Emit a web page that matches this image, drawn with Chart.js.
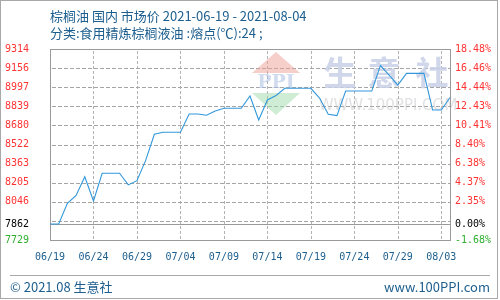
<!DOCTYPE html>
<html>
<head>
<meta charset="utf-8">
<script src="https://cdn.jsdelivr.net/npm/chart.js@4/dist/chart.umd.min.js"></script>
<style>
    html, body { margin: 0; padding: 0; background: #fff; }
    #wrap { width: 500px; height: 300px; }
</style>
</head>
<body>
<div id="wrap"><canvas id="price-plot" width="500" height="300"></canvas></div>
<script>
// dates, one per day 06/19 .. 08/04
const dates = [
    '06/19', '06/20', '06/21', '06/22', '06/23', '06/24', '06/25', '06/26', '06/27', '06/28',
    '06/29', '06/30', '07/01', '07/02', '07/03', '07/04', '07/05', '07/06', '07/07', '07/08',
    '07/09', '07/10', '07/11', '07/12', '07/13', '07/14', '07/15', '07/16', '07/17', '07/18',
    '07/19', '07/20', '07/21', '07/22', '07/23', '07/24', '07/25', '07/26', '07/27', '07/28',
    '07/29', '07/30', '07/31', '08/01', '08/02', '08/03', '08/04'
]
// 棕榈油 market price, yuan/ton
const prices = [
    7862, 7862, 8034, 8098, 8254, 8053, 8283, 8283, 8283, 8186,
    8221, 8390, 8606, 8623, 8623, 8623, 8775, 8775, 8764, 8799,
    8822, 8822, 8822, 8924, 8725, 8891, 8928, 8988, 8988, 8988,
    8988, 8907, 8772, 8761, 8965, 8965, 8965, 8965, 9177, 9098,
    9015, 9112, 9112, 9112, 8808, 8808, 8912
]
const basePrice = 7862
const yMin = 7729
const yMax = 9314
// y ticks (bottom -> top); the 7887.5 one only draws a grid line
const yTickValues = [7729, 7862, 7887.5, 8046, 8204.5, 8363, 8521.5, 8680, 8838.5, 8997, 9155.5, 9314]
const leftTickLabels = ['7729', '7862', '', '8046', '8205', '8363', '8522', '8680', '8839', '8997', '9156', '9314']
const rightTickLabels = ['-1.68%', '0.00%', '', '2.35%', '4.37%', '6.38%', '8.40%', '10.41%', '12.43%', '14.44%', '16.46%', '18.48%']

const titleLine1 = '棕榈油 国内 市场价 2021-06-19 - 2021-08-04'
const titleLine2 = '分类:食用精炼棕榈液油 :熔点(℃):24 ;'
const footerLeft = '© 2021.08 生意社'
const footerRight = 'www.100PPI.com'

const TEXT_BLUE = '#1c5e8e'
const GRID_GRAY = '#b2b2b2'
const tickFont = {family: 'DejaVu Sans Mono', size: 10}

function tickColor(v) {
    if (v > basePrice) return '#ff3333'
    if (v === basePrice) return '#000000'
    return '#2fae2f'
}

function isSolidRow(v) {
    return v === basePrice || v === yMax
}

// grid drawn by hand: dashes as little 1px rects so they stay crisp
const gridLines = {
    id: 'gridLines',
    afterDraw(chart) {
        const c = chart.ctx
        const {left, right, top, bottom} = chart.chartArea
        const xs = chart.scales.x
        const ys = chart.scales.y
        const L = Math.round(left), R = Math.round(right)
        const T = Math.round(top), B = Math.round(bottom)
        c.save()
        c.globalCompositeOperation = 'destination-over'
        yTickValues.forEach((v) => {
            if (v === yMin) return
            const py = Math.round(ys.getPixelForValue(v))
            if (isSolidRow(v)) {
                c.fillStyle = '#9a9a9a'
                c.fillRect(L, py, R - L, 1)
                return
            }
            c.fillStyle = '#a4a4a4'
            for (let px = L + 2; px < R; px += 6) {
                c.fillRect(px, py, Math.min(4, R - px), 1)
            }
        })
        c.fillStyle = GRID_GRAY
        dates.forEach((d, i) => {
            if (i % 5 !== 0 || i === 0) return
            const px = Math.round(xs.getPixelForValue(i))
            for (let py = T + 2; py < B; py += 5) {
                c.fillRect(px, py, 1, Math.min(3, B - py))
            }
        })
        c.restore()
    }
}

const decorations = {
    id: 'decorations',
    beforeDraw(chart) {
        const c = chart.ctx
        c.save()
        // watermark logo
        c.fillStyle = 'rgba(240,160,150,0.5)'
        c.beginPath()
        c.moveTo(276, 52); c.lineTo(300, 73); c.lineTo(252, 73); c.closePath()
        c.fill()
        c.fillStyle = 'rgba(170,190,225,0.55)'
        c.font = 'bold 19px "DejaVu Serif"'
        c.textBaseline = 'middle'
        c.textAlign = 'center'
        c.fillText('PPI', 276, 83)
        c.fillStyle = 'rgba(160,220,170,0.5)'
        c.beginPath()
        c.moveTo(252, 93); c.lineTo(300, 93); c.lineTo(276, 115); c.closePath()
        c.fill()

        c.fillStyle = 'rgba(200,208,230,0.85)'
        c.font = 'bold 33px "Noto Sans CJK SC"'
        c.fillText('生', 340, 72)
        c.fillText('意', 384, 72)
        c.fillText('社', 432, 72)
        c.fillStyle = 'rgba(195,195,200,0.5)'
        c.font = '15px "DejaVu Sans"'
        c.fillText('WWW.100PPI.COM', 388, 106)
        c.restore()
    },
    afterDraw(chart) {
        const c = chart.ctx
        c.save()
        c.fillStyle = TEXT_BLUE
        c.textBaseline = 'middle'
        c.textAlign = 'left'
        c.font = '13px "Noto Sans CJK SC"'
        c.fillText(titleLine1, 50, 16)
        c.fillText(titleLine2, 50, 33)
        c.fillText(footerLeft, 10, 287)
        c.textAlign = 'right'
        c.fillText(footerRight, 490, 287)

        c.fillStyle = '#a8a8a8'
        c.fillRect(10, 275, 480, 1)
        c.strokeStyle = '#a8a8a8'
        c.lineWidth = 1
        c.strokeRect(0.5, 0.5, 497, 298)
        c.restore()
    }
}

document.addEventListener('DOMContentLoaded', () => {
    const ctx_price = document.getElementById('price-plot')

    new Chart(ctx_price, {
        type: 'line',
        data: {
            labels: dates,
            datasets: [
                {data: prices, borderColor: '#3398db', borderWidth: 1.1, pointRadius: 0, tension: 0, fill: false}
            ]
        },
        options: {
            responsive: false,
            animation: false,
            events: [],
            layout: {padding: {top: 49, left: 5, right: 0, bottom: 0}},
            plugins: {
                legend: {display: false},
                tooltip: {enabled: false},
                title: {display: false}
            },
            scales: {
                x: {
                    type: 'category',
                    offset: false,
                    afterFit: (s) => { s.height = 60 },
                    grid: {display: false, drawTicks: false},
                    border: {display: true, color: '#9a9a9a', width: 1},
                    ticks: {
                        autoSkip: false,
                        maxRotation: 0,
                        padding: 11,
                        color: TEXT_BLUE,
                        font: tickFont,
                        callback: (v, i) => (i % 5 === 0 ? dates[i] : '')
                    }
                },
                y: {
                    position: 'left',
                    min: yMin,
                    max: yMax,
                    afterFit: (s) => { s.width = 45 },
                    afterBuildTicks: (s) => { s.ticks = yTickValues.map(v => ({value: v})) },
                    grid: {display: false, drawTicks: false},
                    border: {display: true, color: '#9a9a9a', width: 1},
                    ticks: {
                        autoSkip: false,
                        crossAlign: 'far',
                        font: tickFont,
                        color: (ctx) => tickColor(ctx.tick.value),
                        callback: (v, i) => leftTickLabels[i]
                    }
                },
                y1: {
                    position: 'right',
                    min: yMin,
                    max: yMax,
                    afterFit: (s) => { s.width = 50 },
                    afterBuildTicks: (s) => { s.ticks = yTickValues.map(v => ({value: v})) },
                    grid: {display: false, drawTicks: false},
                    border: {display: true, color: '#9a9a9a', width: 1},
                    ticks: {
                        autoSkip: false,
                        padding: 5,
                        font: tickFont,
                        color: (ctx) => tickColor(ctx.tick.value),
                        callback: (v, i) => rightTickLabels[i]
                    }
                }
            }
        },
        plugins: [decorations, gridLines]
    })
})
</script>
</body>
</html>
